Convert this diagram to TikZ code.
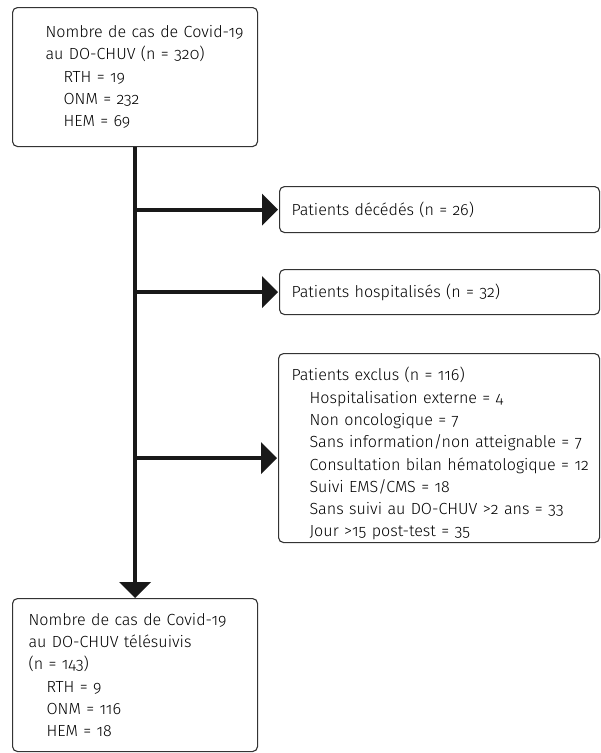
\documentclass[tikz,border=0pt]{standalone}
\usepackage{fontspec}
\setmainfont{Fira Sans Light}[Numbers=OldStyle]
\usepackage{tikz}
\usetikzlibrary{arrows.meta,positioning}

\tikzset{
	box/.style={draw={rgb:black,4;white,1}, line width=1.1pt, rounded corners=5pt,
		anchor=north west, align=left, inner xsep=0pt, inner ysep=0pt},
	pad/.style={execute at begin node={\leftskip=#1}},
	flow/.style={line width=4pt, draw={rgb:black,9;white,1},
		-{Triangle[length=16pt,width=31pt]}}
}
\newcommand{\sub}{\hspace*{18pt}}

\begin{document}
\begin{tikzpicture}[x=1pt,y=-1pt,font=\fontsize{16.1}{22.3}\selectfont]
	\useasboundingbox (0,0) rectangle (601,753);
	
	\node[box,pad=33pt,text width=245pt,minimum height=139pt] (total) at (12,7)
		{Nombre de cas de Covid-19\\au DO-CHUV (n = 320)\\\sub RTH = 19\\\sub ONM = 232\\\sub HEM = 69};
	\node[box,pad=12pt,text width=320pt,minimum height=46pt] (deces) at (279,186)
		{Patients décédés (n = 26)};
	\node[box,pad=12pt,text width=320pt,minimum height=45pt] (hosp) at (279,269)
		{Patients hospitalisés (n = 32)};
	\node[box,pad=13pt,text width=321pt,minimum height=189pt] (exclus) at (278,353)
		{\rule{0pt}{25pt}Patients exclus (n = 116)\\\sub Hospitalisation externe = 4\\\sub Non oncologique = 7\\
		\sub Sans information/non atteignable = 7\\\sub Consultation bilan hématologique = 12\\
		\sub Suivi EMS/CMS = 18\\\sub Sans suivi au DO-CHUV >2 ans = 33\\\sub Jour >15 post-test = 35};
	\node[box,pad=16pt,text width=245pt,minimum height=153pt] (suivis) at (12,598)
		{Nombre de cas de Covid-19\\au DO-CHUV télésuivis\\(n = 143)\\\sub RTH = 9\\\sub ONM = 116\\\sub HEM = 18};
	\coordinate (exclin) at ([yshift=-10pt]exclus.west);
	
	% tronc principal
	\draw[flow] (total.south) -- (suivis.north);
	% branches
	\draw[flow,shorten >=1pt] (total.south |- deces.west) -- (deces.west);
	\draw[flow,shorten >=1pt] (total.south |- hosp.west) -- (hosp.west);
	\draw[flow,shorten >=1pt] (total.south |- exclin) -- (exclin);
\end{tikzpicture}
\end{document}
